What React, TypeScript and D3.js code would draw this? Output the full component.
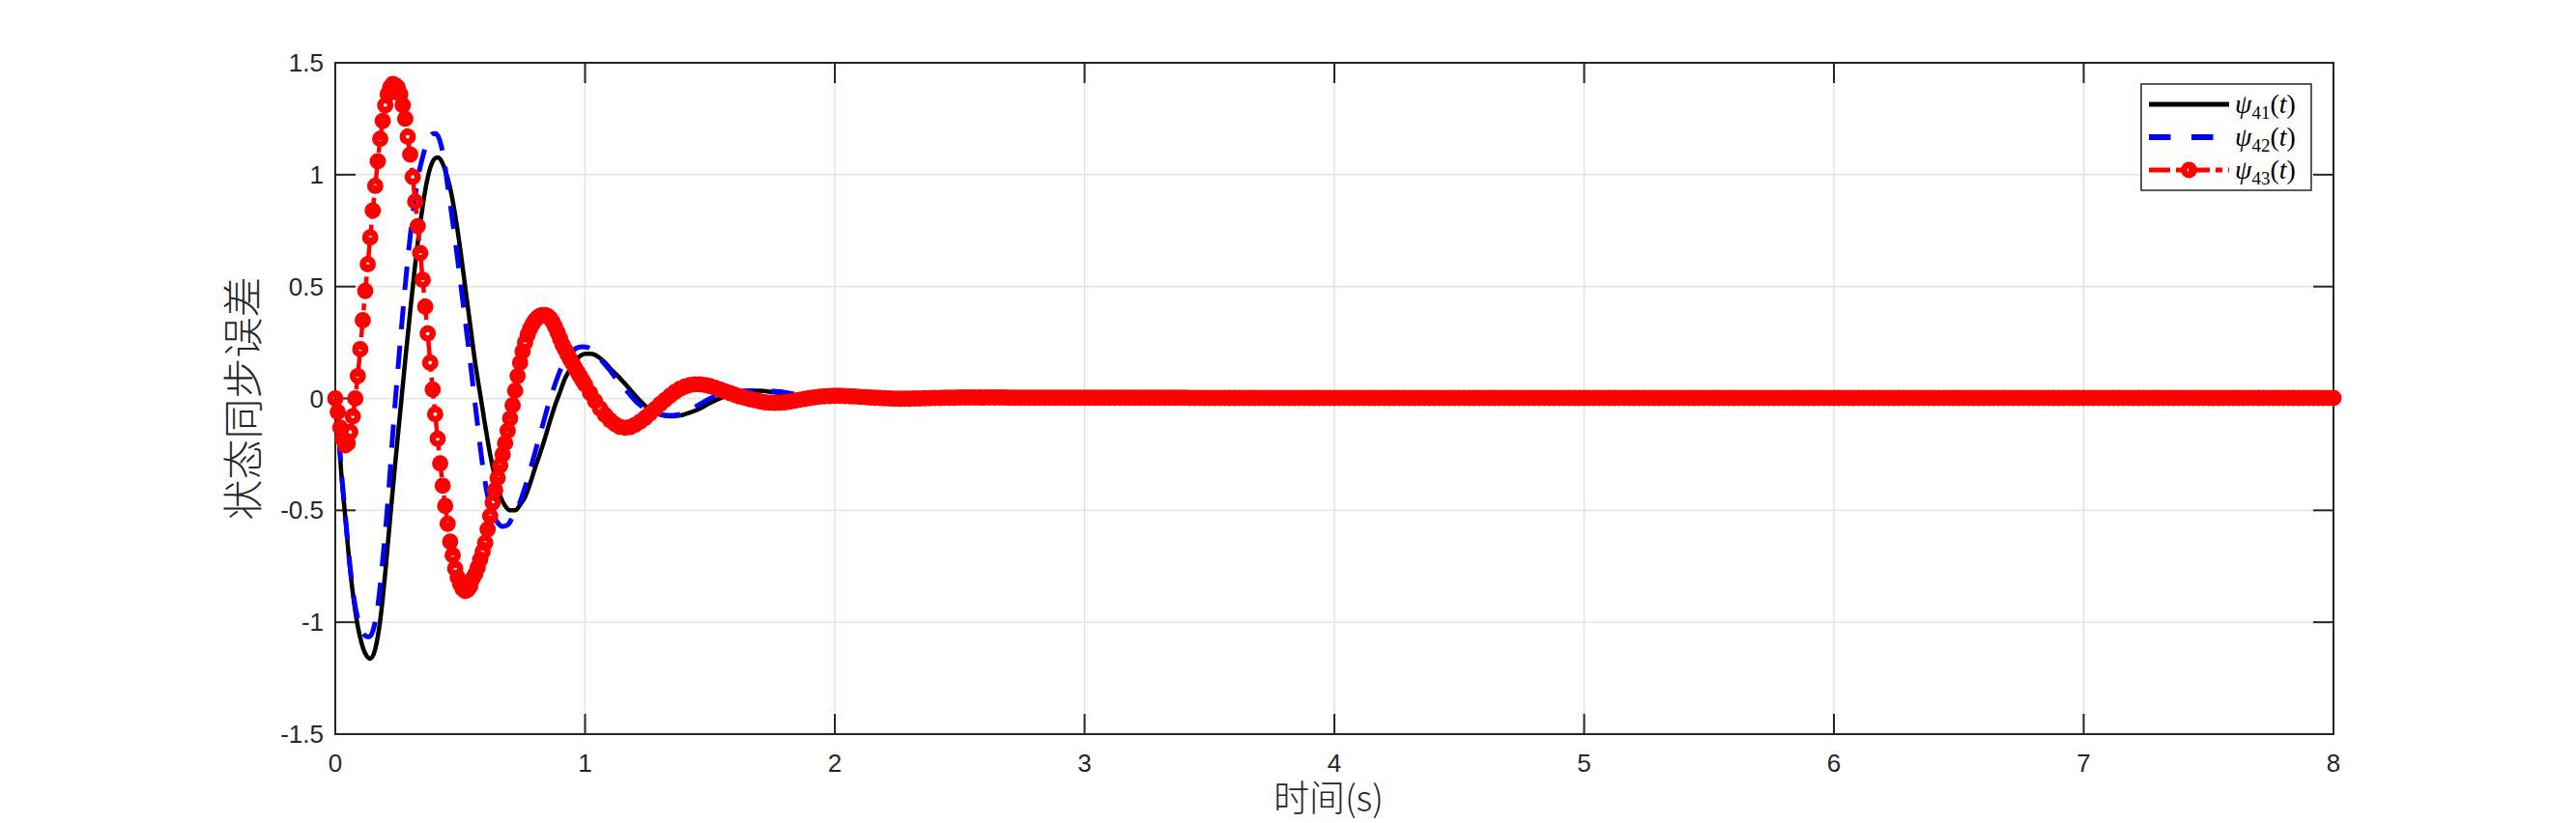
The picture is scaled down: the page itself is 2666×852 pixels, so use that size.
import React from "react";
import * as d3 from "d3";

const xTicks = [0, 1, 2, 3, 4, 5, 6, 7, 8];
const yTicks = [-1.5, -1, -0.5, 0, 0.5, 1, 1.5];

// psi41(t), solid black
const psi41Time = [
  0, 0.01, 0.02, 0.04, 0.06, 0.08, 0.1, 0.12, 0.14, 0.16, 0.18, 0.2, 0.22, 0.24, 0.26, 0.28,
  0.3, 0.32, 0.34, 0.36, 0.38, 0.4, 0.41, 0.42, 0.44, 0.46, 0.48, 0.5, 0.52, 0.54, 0.56, 0.58,
  0.6, 0.62, 0.64, 0.66, 0.68, 0.7, 0.72, 0.74, 0.76, 0.78, 0.8, 0.82, 0.84, 0.86, 0.88, 0.9,
  0.92, 0.94, 0.96, 0.98, 1.0, 1.02, 1.04, 1.06, 1.08, 1.1, 1.14, 1.18, 1.22, 1.26, 1.3, 1.34,
  1.38, 1.42, 1.46, 1.5, 1.55, 1.6, 1.65, 1.7, 1.75, 1.8, 1.85, 1.9, 2.0, 2.2, 2.5, 3.0, 8.0,
];
const psi41 = [
  0, -0.08, -0.27, -0.53, -0.77, -0.95, -1.07, -1.14, -1.163, -1.12, -0.99, -0.78, -0.53, -0.29, -0.06, 0.17,
  0.39, 0.6, 0.78, 0.93, 1.03, 1.073, 1.077, 1.07, 1.02, 0.94, 0.82, 0.67, 0.5, 0.33, 0.16, 0.02,
  -0.12, -0.25, -0.355, -0.435, -0.48, -0.5, -0.5, -0.475, -0.44, -0.38, -0.31, -0.245, -0.175, -0.1, -0.03, 0.03,
  0.09, 0.13, 0.165, 0.19, 0.2, 0.2, 0.195, 0.18, 0.16, 0.135, 0.09, 0.04, -0.01, -0.05, -0.072, -0.08,
  -0.076, -0.063, -0.045, -0.02, 0.005, 0.024, 0.033, 0.034, 0.028, 0.02, 0.01, 0.003, -0.004, -0.002, 0.001, 0, 0,
];

// psi42(t), dashed blue
const psi42Time = [
  0, 0.01, 0.02, 0.04, 0.06, 0.08, 0.1, 0.12, 0.135, 0.15, 0.17, 0.19, 0.21, 0.23, 0.25, 0.27,
  0.29, 0.31, 0.33, 0.35, 0.37, 0.39, 0.4, 0.41, 0.43, 0.45, 0.47, 0.49, 0.51, 0.53, 0.55, 0.57,
  0.59, 0.61, 0.63, 0.65, 0.67, 0.69, 0.71, 0.73, 0.75, 0.77, 0.79, 0.81, 0.83, 0.85, 0.87, 0.89,
  0.91, 0.93, 0.95, 0.97, 0.99, 1.01, 1.04, 1.07, 1.1, 1.13, 1.17, 1.21, 1.25, 1.29, 1.33, 1.37,
  1.41, 1.45, 1.5, 1.55, 1.6, 1.65, 1.7, 1.75, 1.8, 1.87, 1.95, 2.05, 2.3, 8.0,
];
const psi42 = [
  0, -0.08, -0.26, -0.52, -0.76, -0.93, -1.02, -1.06, -1.065, -1.04, -0.93, -0.72, -0.47, -0.16, 0.12, 0.38,
  0.62, 0.82, 0.98, 1.08, 1.15, 1.182, 1.184, 1.175, 1.1, 0.95, 0.79, 0.62, 0.44, 0.26, 0.07, -0.12,
  -0.3, -0.435, -0.51, -0.555, -0.572, -0.565, -0.53, -0.49, -0.43, -0.36, -0.28, -0.2, -0.12, -0.04, 0.03, 0.095,
  0.15, 0.19, 0.212, 0.227, 0.231, 0.228, 0.205, 0.165, 0.125, 0.08, 0.03, -0.02, -0.05, -0.068, -0.076, -0.073,
  -0.055, -0.032, 0, 0.018, 0.028, 0.034, 0.035, 0.032, 0.027, 0.013, 0.003, -0.003, 0, 0,
];

// psi43(t), red dash-dot with circles: every 0.01 s up to 1 s ...
const psi43Head = [
  0, -0.06, -0.13, -0.18, -0.21, -0.2, -0.15, -0.08, 0, 0.1,
  0.22, 0.35, 0.48, 0.6, 0.72, 0.84, 0.95, 1.06, 1.16, 1.24,
  1.31, 1.36, 1.39, 1.405, 1.4, 1.39, 1.36, 1.31, 1.25, 1.17,
  1.09, 0.99, 0.88, 0.77, 0.65, 0.53, 0.41, 0.29, 0.16, 0.04,
  -0.07, -0.18, -0.29, -0.39, -0.48, -0.56, -0.64, -0.7, -0.76, -0.8,
  -0.83, -0.85, -0.86, -0.855, -0.84, -0.805, -0.785, -0.755, -0.72, -0.685,
  -0.645, -0.585, -0.525, -0.465, -0.41, -0.355, -0.3, -0.25, -0.2, -0.145,
  -0.09, -0.03, 0.035, 0.1, 0.16, 0.21, 0.25, 0.285, 0.312, 0.333,
  0.35, 0.362, 0.369, 0.372, 0.372, 0.368, 0.358, 0.342, 0.32, 0.295,
  0.268, 0.24, 0.218, 0.196, 0.176, 0.156, 0.137, 0.118, 0.099, 0.08,
  0.062,
];
// ... then every 0.02 s from 1.02 s to 8 s
const psi43Tail = [
  0.025, -0.012, -0.045, -0.073, -0.097, -0.115, -0.127, -0.131, -0.128, -0.118,
  -0.104, -0.087, -0.067, -0.047, -0.026, -0.007, 0.012, 0.029, 0.043, 0.053,
  0.06, 0.063, 0.063, 0.06, 0.055, 0.048, 0.04, 0.032, 0.024, 0.016,
  0.009, 0.003, -0.003, -0.008, -0.013, -0.017, -0.019, -0.02, -0.019, -0.017,
  -0.014, -0.01, -0.006, -0.002, 0.002, 0.005, 0.008, 0.01, 0.011, 0.012,
  0.012, 0.011, 0.01, 0.009, 0.007, 0.006, 0.004, 0.003, 0.002, 0.001,
  0, -0.001, -0.001, -0.001, -0.001, 0, 0, 0.001, 0.001, 0.002,
  0.002, 0.003, 0.003, 0.003, 0.004, 0.004, 0.004, 0.004, 0.004, 0.004,
  0.004, 0.004, 0.004, 0.004, 0.003, 0.003, 0.003, 0.003, 0.003, 0.003,
  0.003, 0.003, 0.003, 0.003, 0.003, 0.003, 0.003, 0.003, 0.003, 0.003,
  0.003, 0.003, 0.003, 0.003, 0.003, 0.003, 0.003, 0.003, 0.003, 0.003,
  0.003, 0.003, 0.003, 0.003, 0.003, 0.003, 0.003, 0.003, 0.003, 0.003,
  0.002, 0.002, 0.002, 0.002, 0.002, 0.002, 0.002, 0.002, 0.002, 0.002,
  0.002, 0.002, 0.002, 0.002, 0.002, 0.002, 0.002, 0.002, 0.002, 0.002,
  0.002, 0.002, 0.002, 0.002, 0.002, 0.002, 0.002, 0.002, 0.002, 0.002,
  0.002, 0.002, 0.002, 0.002, 0.002, 0.002, 0.002, 0.002, 0.002, 0.002,
  0.002, 0.002, 0.002, 0.002, 0.002, 0.002, 0.002, 0.002, 0.002, 0.002,
  0.002, 0.002, 0.002, 0.002, 0.002, 0.002, 0.002, 0.002, 0.002, 0.002,
  0.002, 0.002, 0.002, 0.002, 0.002, 0.002, 0.002, 0.002, 0.002, 0.002,
  0.002, 0.002, 0.002, 0.002, 0.002, 0.002, 0.002, 0.002, 0.002, 0.002,
  0.002, 0.002, 0.002, 0.002, 0.002, 0.002, 0.002, 0.002, 0.002, 0.002,
  0.002, 0.002, 0.002, 0.002, 0.002, 0.002, 0.002, 0.002, 0.002, 0.002,
  0.002, 0.002, 0.002, 0.002, 0.002, 0.002, 0.002, 0.002, 0.002, 0.002,
  0.002, 0.002, 0.002, 0.002, 0.002, 0.002, 0.002, 0.002, 0.002, 0.002,
  0.002, 0.002, 0.002, 0.002, 0.002, 0.002, 0.002, 0.002, 0.002, 0.002,
  0.002, 0.002, 0.002, 0.002, 0.002, 0.002, 0.002, 0.002, 0.002, 0.002,
  0.002, 0.002, 0.002, 0.002, 0.002, 0.002, 0.002, 0.002, 0.002, 0.002,
  0.002, 0.002, 0.002, 0.002, 0.002, 0.002, 0.002, 0.002, 0.002, 0.002,
  0.002, 0.002, 0.002, 0.002, 0.002, 0.002, 0.002, 0.002, 0.002, 0.002,
  0.002, 0.002, 0.002, 0.002, 0.002, 0.002, 0.002, 0.002, 0.002, 0.002,
  0.002, 0.002, 0.002, 0.002, 0.002, 0.002, 0.002, 0.002, 0.002, 0.002,
  0.002, 0.002, 0.002, 0.002, 0.002, 0.002, 0.002, 0.002, 0.002, 0.002,
  0.002, 0.002, 0.002, 0.002, 0.002, 0.002, 0.002, 0.002, 0.002, 0.002,
  0.002, 0.002, 0.002, 0.002, 0.002, 0.002, 0.002, 0.002, 0.002, 0.002,
  0.002, 0.002, 0.002, 0.002, 0.002, 0.002, 0.002, 0.002, 0.002, 0.002,
];

const legendSubs = ["41", "42", "43"];

const axisColor = "#262626";
const gridColor = "#e3e3e3";
const tickFont = "'Liberation Sans', Arial, sans-serif";
const cjkFont = "'Noto Sans CJK SC', sans-serif";
const mathFont = "'Liberation Serif', 'DejaVu Serif', serif";

type Pt = [number, number];

export default function App() {
  const width = 2666;
  const height = 852;
  const tickLen = 21;

  const x = d3.scaleLinear().domain([0, 8]).range([347, 2415]);
  const y = d3.scaleLinear().domain([-1.5, 1.5]).range([760, 65]);
  const [left, right] = x.range();
  const [bottom, top] = y.range();

  const smooth = d3
    .line<Pt>()
    .x((d) => x(d[0]))
    .y((d) => y(d[1]))
    .curve(d3.curveMonotoneX);
  const straight = d3
    .line<Pt>()
    .x((d) => x(d[0]))
    .y((d) => y(d[1]));

  const black: Pt[] = psi41Time.map((t, i) => [t, psi41[i]]);
  const blue: Pt[] = psi42Time.map((t, i) => [t, psi42[i]]);
  const red: Pt[] = [
    ...psi43Head.map((v, i) => [i * 0.01, v] as Pt),
    ...psi43Tail.map((v, i) => [1.02 + i * 0.02, v] as Pt),
  ];

  const legX = 2216;
  const legY = 87;
  const rowY = [108, 142, 176];

  return (
    <div style={{ position: "absolute", left: 0, top: 0 }}>
      <svg width={width} height={height} style={{ display: "block", background: "#fff" }}>
        {/* grid */}
        <g stroke={gridColor} strokeWidth={1.5}>
          {xTicks.slice(1, -1).map((t) => (
            <line key={"gx" + t} x1={x(t)} x2={x(t)} y1={top} y2={bottom} />
          ))}
          {yTicks.slice(1, -1).map((t) => (
            <line key={"gy" + t} x1={left} x2={right} y1={y(t)} y2={y(t)} />
          ))}
        </g>

        {/* axes box and ticks */}
        <g stroke={axisColor} strokeWidth={2} fill="none">
          <rect x={left} y={top} width={right - left} height={bottom - top} />
          {xTicks.map((t) => (
            <g key={"tx" + t}>
              <line x1={x(t)} x2={x(t)} y1={bottom} y2={bottom - tickLen} />
              <line x1={x(t)} x2={x(t)} y1={top} y2={top + tickLen} />
            </g>
          ))}
          {yTicks.map((t) => (
            <g key={"ty" + t}>
              <line x1={left} x2={left + tickLen} y1={y(t)} y2={y(t)} />
              <line x1={right} x2={right - tickLen} y1={y(t)} y2={y(t)} />
            </g>
          ))}
        </g>

        {/* tick labels */}
        <g fontFamily={tickFont} fontSize={26} fill={axisColor}>
          {xTicks.map((t) => (
            <text key={"lx" + t} x={x(t)} y={bottom + 39} textAnchor="middle">
              {t}
            </text>
          ))}
          {yTicks.map((t) => (
            <text key={"ly" + t} x={left - 12} y={y(t) + 9} textAnchor="end">
              {String(t)}
            </text>
          ))}
        </g>

        {/* axis titles */}
        <text
          x={(left + right) / 2 - 6}
          y={840}
          textAnchor="middle"
          fontFamily={cjkFont}
          fontSize={37}
          fontWeight={300}
          fill={axisColor}
        >
          时间(s)
        </text>
        <text
          transform={`translate(252, ${(top + bottom) / 2}) rotate(-90)`}
          textAnchor="middle"
          dy="0.36em"
          fontFamily={cjkFont}
          fontSize={42}
          fontWeight={300}
          fill={axisColor}
        >
          状态同步误差
        </text>

        {/* series */}
        <path d={smooth(black) ?? ""} fill="none" stroke="#000" strokeWidth={4.5} />
        <path
          d={smooth(blue) ?? ""}
          fill="none"
          stroke="#0000ff"
          strokeWidth={5}
          strokeDasharray="24,17"
        />
        <path
          d={straight(red) ?? ""}
          fill="none"
          stroke="#ff0000"
          strokeWidth={4.5}
          strokeDasharray="22,6,7,6"
        />
        <g fill="none" stroke="#ff0000" strokeWidth={6.5}>
          {red.map((d, i) => (
            <circle key={i} cx={x(d[0])} cy={y(d[1])} r={5.2} />
          ))}
        </g>

        {/* legend */}
        <rect x={legX} y={legY} width={176} height={110} fill="#fff" stroke={axisColor} strokeWidth={1.5} />
        <line x1={2224} x2={2307} y1={rowY[0]} y2={rowY[0]} stroke="#000" strokeWidth={5} />
        <line
          x1={2224}
          x2={2307}
          y1={rowY[1]}
          y2={rowY[1]}
          stroke="#0000ff"
          strokeWidth={6}
          strokeDasharray="22.5,21.5"
        />
        <line
          x1={2224}
          x2={2307}
          y1={rowY[2]}
          y2={rowY[2]}
          stroke="#ff0000"
          strokeWidth={5}
          strokeDasharray="22,6,7,6"
        />
        <circle cx={2265.5} cy={rowY[2]} r={5.2} fill="none" stroke="#ff0000" strokeWidth={6.5} />
        {legendSubs.map((s, i) => (
          <text key={s} x={2313} y={rowY[i] + 9} fontFamily={mathFont} fontSize={28} fill="#000">
            <tspan fontStyle="italic">ψ</tspan>
            <tspan fontSize={19} dy={6}>
              {s}
            </tspan>
            <tspan dy={-6}>(</tspan>
            <tspan fontStyle="italic">t</tspan>
            <tspan>)</tspan>
          </text>
        ))}
      </svg>
    </div>
  );
}
